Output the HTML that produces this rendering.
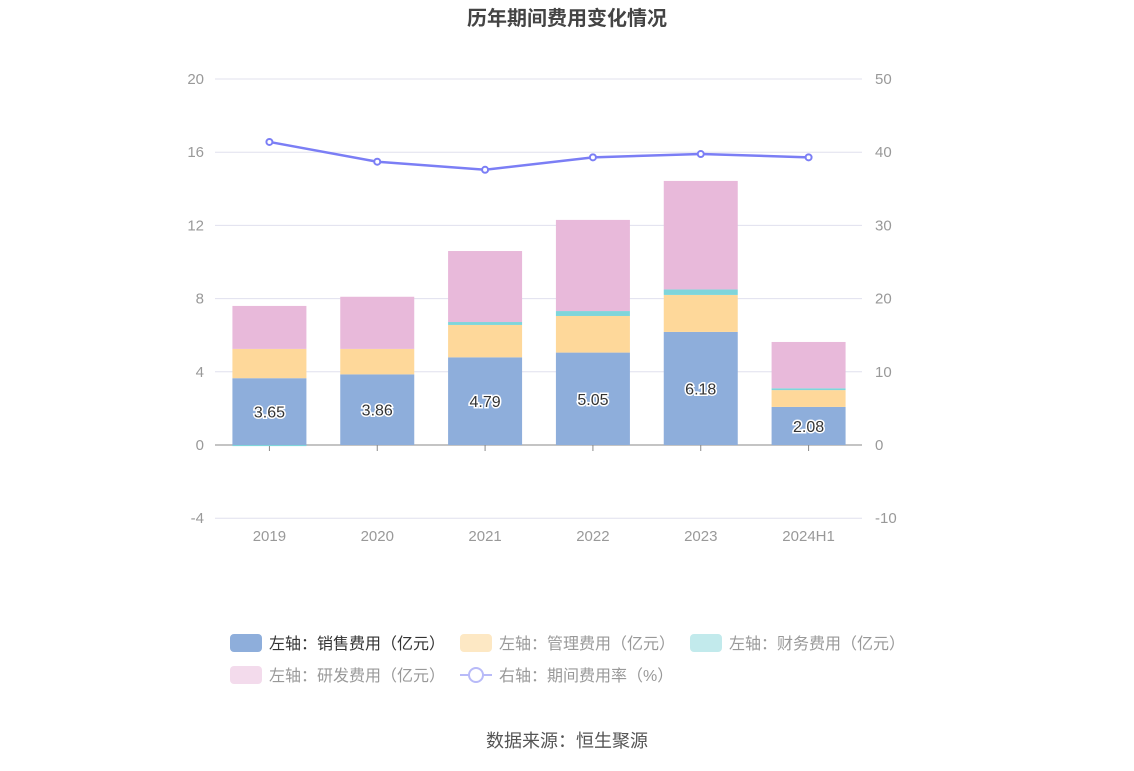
<!DOCTYPE html>
<html><head><meta charset="utf-8"><style>
body{margin:0;background:#fff;font-family:"Liberation Sans","Noto Sans CJK SC",sans-serif;}
</style></head><body>
<svg id="c" width="1134" height="766" xmlns="http://www.w3.org/2000/svg">
<text x="567" y="25" text-anchor="middle" font-size="20" font-weight="bold" fill="#444">历年期间费用变化情况</text>
<g id="grid"></g><g id="bars"></g><g id="line"></g><g id="legend"></g>
<text x="567" y="747" text-anchor="middle" font-size="18" fill="#555">数据来源：恒生聚源</text>
</svg>
<script>
const categories=["2019","2020","2021","2022","2023","2024H1"];
const sales=[3.65,3.86,4.79,5.05,6.18,2.08];
const mgmt=[1.6,1.39,1.77,2.0,2.02,0.92];
const finance=[-0.06,0.0,0.16,0.27,0.3,0.1];
const research=[2.35,2.85,3.88,4.98,5.93,2.53];
const rate=[41.4,38.7,37.6,39.3,39.75,39.3];
const leftTicks=[-4,0,4,8,12,16,20];
const rightTicks=[-10,0,10,20,30,40,50];
const NS="http://www.w3.org/2000/svg";
const X0=215,X1=862,yL=v=>445-v*18.3,yR=v=>445-v*7.32;
const bw=(X1-X0)/categories.length,xc=i=>X0+bw*(i+.5)+0.5;
function mk(t,a,p){const e=document.createElementNS(NS,t);for(const k in a)e.setAttribute(k,a[k]);p.appendChild(e);return e;}
const g=document.getElementById('grid');
leftTicks.forEach((t,i)=>{
 const l=mk('line',{x1:X0,x2:X1,y1:yL(t),y2:yL(t),stroke:t===0?'#888':'#e0e0ee'},g);
 
 
 const a=mk('text',{x:204,y:yL(t)+5,'text-anchor':'end','font-size':15,fill:'#999'},g);a.textContent=t;
 
 
 const b=mk('text',{x:875,y:yR(rightTicks[i])+5,'font-size':15,fill:'#999'},g);b.textContent=rightTicks[i];
 
 
});
const bg=document.getElementById('bars');
categories.forEach((c,i)=>{
 const x=xc(i);
 const tk=mk('line',{x1:x,x2:x,y1:445,y2:451,stroke:'#888'},g);
 
 
 const t=mk('text',{x:x,y:541,'text-anchor':'middle','font-size':15,fill:'#999'},g);t.textContent=c;
 
 
 let base=0,neg=0;
 [[sales,'#8eaedb','sales'],[mgmt,'#fed89a','mgmt'],[finance,'#7fd5da','finance'],[research,'#e8b9da','research']].forEach(([arr,col,n])=>{
  const v=arr[i];let y0,y1;
  if(v>=0){y0=base;y1=base+v;base+=v;}else{y0=neg+v;y1=neg;neg+=v;}
  const r=mk('rect',{x:x-37,width:74,y:yL(y1),height:Math.max(0,yL(y0)-yL(y1)),fill:col},bg);
  
  
 });
 const lb=mk('text',{x:x,y:(yL(sales[i])+445)/2+6,'text-anchor':'middle','font-size':16,fill:'#333',stroke:'#fff','stroke-width':3,'paint-order':'stroke'},bg);lb.textContent=sales[i].toFixed(2);
 
 
});
const lg=document.getElementById('line');
const p=mk('polyline',{points:rate.map((v,i)=>xc(i)+','+yR(v)).join(' '),fill:'none',stroke:'#7b7ef5','stroke-width':2.5},lg);


rate.forEach((v,i)=>{const c=mk('circle',{cx:xc(i),cy:yR(v),r:3,fill:'#fff',stroke:'#7b7ef5','stroke-width':2},lg);
 
 });
const L=document.getElementById('legend');
[['左轴：销售费用（亿元）','#8eaedb',230,643,'#333'],['左轴：管理费用（亿元）','#fde8c4',460,643,'#999'],['左轴：财务费用（亿元）','#c2eaec',690,643,'#999'],['左轴：研发费用（亿元）','#f3dbec',230,675,'#999']].forEach(([t,c,x,y,tc])=>{
 const gg=mk('g',{},L);
 
 
 mk('rect',{x:x,y:y-9,width:32,height:18,rx:4,fill:c},gg);
 const tt=mk('text',{x:x+39,y:y+6,'font-size':16,fill:tc},gg);tt.textContent=t;
});
const gl=mk('g',{},L);


mk('line',{x1:460,x2:492,y1:675,y2:675,stroke:'#b8baf8','stroke-width':2},gl);
mk('circle',{cx:476,cy:675,r:7,fill:'#fff',stroke:'#b8baf8','stroke-width':2},gl);
const lt=mk('text',{x:499,y:681,'font-size':16,fill:'#999'},gl);lt.textContent='右轴：期间费用率（%）';
</script>
</body></html>
